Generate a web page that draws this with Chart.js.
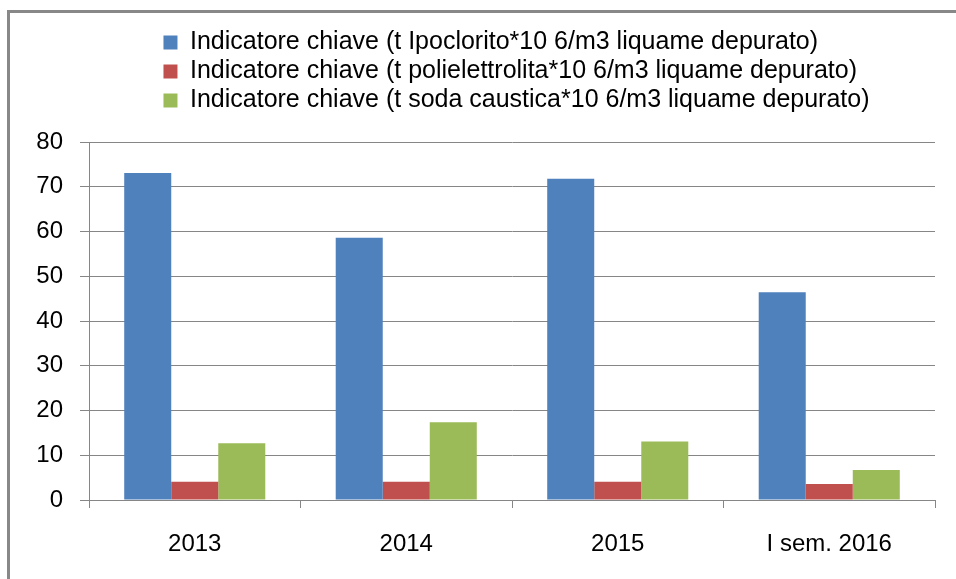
<!DOCTYPE html>
<html>
<head>
<meta charset="utf-8">
<script src="https://cdn.jsdelivr.net/npm/chart.js@4/dist/chart.umd.min.js"></script>
<style>
    html, body { margin: 0; padding: 0; background: #fff; }
    #wrap { position: relative; width: 956px; height: 579px; }
    #frame {
        position: absolute; left: 7px; top: 10px; right: -10px; bottom: -10px;
        border-left: 3px solid #888; border-top: 3px solid #888;
        pointer-events: none;
    }
</style>
</head>
<body>
<div id="wrap">
    <canvas id="indicatori"></canvas>
    <div id="frame"></div>
</div>
<script>
    const anni = ['2013', '2014', '2015', 'I sem. 2016'];
    const ipoclorito = [73.1, 58.6, 71.8, 46.4];
    const polielettrolita = [4.1, 4.1, 4.1, 3.6];
    const sodaCaustica = [12.7, 17.4, 13.1, 6.7];
    const yTicks = [0, 10, 20, 30, 40, 50, 60, 70, 80];

    const gridColor = '#868686';
    const font = 'Liberation Sans, Arial, sans-serif';

    // legend: rows share one left edge, block nudged right, extra gap below
    const legendBlock = {
        id: 'legendBlock',
        afterInit(chart) {
            const lg = chart.legend;
            const fit = lg.fit;
            lg.fit = function () {
                fit.call(this);
                if (this.lineWidths && this.lineWidths.length) {
                    const w = Math.max(...this.lineWidths);
                    this.lineWidths = this.lineWidths.map(() => w - 98);
                }
                this.height += 19;
            };
        }
    };

    const ctx = document.getElementById('indicatori').getContext('2d');
    new Chart(ctx, {
        type: 'bar',
        data: {
            labels: anni,
            datasets: [{
                label: 'Indicatore chiave (t Ipoclorito*10 6/m3 liquame depurato)',
                data: ipoclorito,
                backgroundColor: '#4F81BD'
            }, {
                label: 'Indicatore chiave (t polielettrolita*10 6/m3 liquame depurato)',
                data: polielettrolita,
                backgroundColor: '#C0504D'
            }, {
                label: 'Indicatore chiave (t soda caustica*10 6/m3 liquame depurato)',
                data: sodaCaustica,
                backgroundColor: '#9BBB59'
            }]
        },
        options: {
            responsive: true,
            maintainAspectRatio: false,
            animation: false,
            layout: { padding: { left: 0, right: 21, top: 26, bottom: 0 } },
            datasets: { bar: { categoryPercentage: 0.667, barPercentage: 1.0 } },
            plugins: {
                tooltip: { enabled: false },
                legend: {
                    position: 'top',
                    labels: {
                        boxWidth: 14,
                        boxHeight: 14,
                        padding: 4,
                        color: '#000',
                        font: { family: font, size: 25 }
                    }
                }
            },
            scales: {
                x: {
                    grid: {
                        offset: true,
                        drawOnChartArea: false,
                        drawTicks: true,
                        tickLength: 8,
                        color: gridColor
                    },
                    border: { color: gridColor },
                    ticks: {
                        color: '#000',
                        padding: 22,
                        font: { family: font, size: 24 }
                    },
                    afterFit(scale) { scale.height = 79; }
                },
                y: {
                    min: 0,
                    max: 80,
                    afterBuildTicks(scale) {
                        scale.ticks = yTicks.map(v => ({ value: v }));
                    },
                    grid: { color: gridColor, tickLength: 9 },
                    border: { color: gridColor },
                    ticks: {
                        color: '#000',
                        padding: 17,
                        font: { family: font, size: 24 }
                    },
                    afterFit(scale) { scale.width = 89; }
                }
            }
        },
        plugins: [legendBlock]
    });
</script>
</body>
</html>
